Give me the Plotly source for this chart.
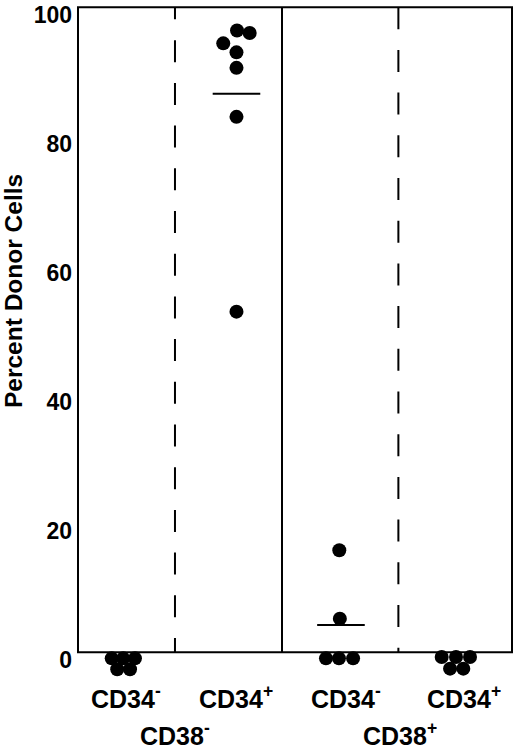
import plotly.graph_objects as go

# ---------------- data ----------------
groups = ["CD34- CD38-", "CD34+ CD38-", "CD34- CD38+", "CD34+ CD38+"]
group_pos = [1, 2, 3, 4]
cd34neg_cd38neg = [0, 0, 0, 0, 0]
cd34pos_cd38neg = [96.4, 96.0, 94.4, 93.0, 90.6, 83.0, 52.8]
cd34neg_cd38pos = [15.8, 5.2, 0, 0, 0]
cd34pos_cd38pos = [0, 0, 0, 0, 0]
y_tick_vals = [0, 20, 40, 60, 80, 100]
x_label_top = ["CD34<sup>-</sup>", "CD34<sup>+</sup>", "CD34<sup>-</sup>", "CD34<sup>+</sup>"]
x_label_bottom = ["CD38<sup>-</sup>", "CD38<sup>+</sup>"]
y_title = "Percent Donor Cells"

# ---------------- layout helpers (positions / styles) ----------------
series = [cd34neg_cd38neg, cd34pos_cd38neg, cd34neg_cd38pos, cd34pos_cd38pos]
col_shift = [0.0, 0.028, -0.024, 0.02]          # small shift of each column
jitter_x = [
    [-0.104, 0.0, 0.107, -0.054, 0.062],
    [0.005, 0.12, -0.12, 0.0, 0.0, 0.0, 0.0],
    [-0.015, -0.01, -0.136, -0.018, 0.11],
    [-0.13, 0.0, 0.127, -0.054, 0.066],
]
jitter_y = [                                      # display offset for stacked zero points
    [-0.95, -0.95, -0.95, -2.65, -2.65],
    [0, 0, 0, 0, 0, 0, 0],
    [0, 0, -0.95, -0.95, -0.95],
    [-0.75, -0.75, -0.75, -2.55, -2.55],
]
show_mean = [False, True, True, False]
dash_left = ",".join(["12px", "21px"] + ["22px", "20.7px"] * 16)
dash_right = ",".join(["22px", "20.7px"] * 16)
dividers = [(1.47, dash_left), (2.441, "solid"), (3.497, dash_right)]
label_x = [1.03, 2.02, 3.02, 4.09]
label_bottom_x = [1.47, 3.512]

FONT = "Liberation Sans, Arial, Helvetica, sans-serif"

fig = go.Figure()

# frame (box from 0 to 100)
fig.add_shape(type="rect", xref="paper", yref="y", x0=0, x1=1, y0=0, y1=100,
              line=dict(color="black", width=2), fillcolor="rgba(0,0,0,0)", layer="above")

for xd, dash in dividers:
    fig.add_shape(type="line", xref="x", yref="y", x0=xd, x1=xd, y0=100, y1=0,
                  line=dict(color="black", width=2, dash=dash), layer="above")

for i, vals in enumerate(series):
    xs = [group_pos[i] + col_shift[i] + jitter_x[i][k] for k in range(len(vals))]
    ys = [v + jitter_y[i][k] for k, v in enumerate(vals)]
    fig.add_trace(go.Scatter(
        x=xs, y=ys, mode="markers", cliponaxis=False, showlegend=False,
        marker=dict(size=14, color="black", line=dict(width=0)),
        hoverinfo="skip",
    ))
    if show_mean[i]:
        m = sum(vals) / len(vals)
        fig.add_trace(go.Scatter(
            x=[group_pos[i] + col_shift[i]], y=[m], mode="markers",
            showlegend=False, hoverinfo="skip", cliponaxis=False,
            marker=dict(symbol="line-ew", size=34, color="black",
                        line=dict(width=2, color="black")),
        ))

for lx, txt in zip(label_x, x_label_top):
    fig.add_annotation(x=lx, y=0, xref="x", yref="y", text=txt, showarrow=False,
                       xanchor="center", yanchor="middle", yshift=-45,
                       font=dict(family=FONT, size=25, color="black", weight="bold"))
for lx, txt in zip(label_bottom_x, x_label_bottom):
    fig.add_annotation(x=lx, y=0, xref="x", yref="y", text=txt, showarrow=False,
                       xanchor="center", yanchor="middle", yshift=-82,
                       font=dict(family=FONT, size=25, color="black", weight="bold"))

fig.add_annotation(x=0, y=56, xref="paper", yref="y", text=y_title,
                   showarrow=False, textangle=-90, xanchor="center", yanchor="middle",
                   xshift=-65, font=dict(family=FONT, size=24.5, color="black", weight="bold"))

fig.update_xaxes(range=[0.59, 4.528], showgrid=False, zeroline=False, showticklabels=False,
                 ticks="", showline=False, fixedrange=True)
fig.update_yaxes(range=[-4, 100.5], tickvals=y_tick_vals, showgrid=False, zeroline=False,
                 ticks="", showline=False,
                 ticklabelstandoff=5, ticklabelshift=8,
                 tickfont=dict(family=FONT, size=23, color="black", weight="bold"),
                 fixedrange=True)

# 0..100 maps to y=652..5 px -> 6.47 px per unit; range top 100.5 -> t ~ 1.8
fig.update_layout(width=520, height=748, margin=dict(l=78, r=8, t=1.8, b=70.1),
                  plot_bgcolor="white", paper_bgcolor="white", showlegend=False)

fig.write_html("out.html", config={"displayModeBar": False},
               post_script="document.body.style.margin='0px';")
